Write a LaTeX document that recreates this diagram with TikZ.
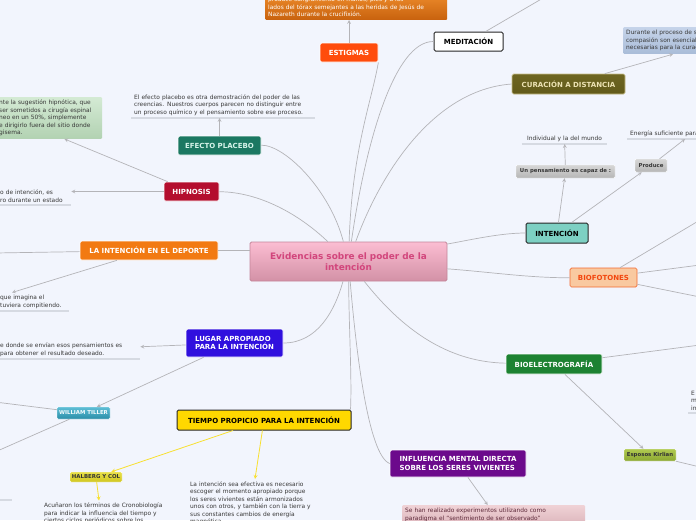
\documentclass[tikz,border=0pt]{standalone}
\usepackage{fontspec}
\setmainfont{DejaVu Sans}

\definecolor{bgblue}{HTML}{F2F5FD}
\definecolor{linegray}{HTML}{B4B4B8}
\definecolor{uline}{HTML}{D6DAE2}
\definecolor{notegray}{HTML}{383838}
\definecolor{rootA}{HTML}{FBBDD2}
\definecolor{rootB}{HTML}{D391A6}
\definecolor{rootline}{HTML}{C4869A}
\definecolor{roottext}{HTML}{D2457C}
\definecolor{estigred}{HTML}{FF4C0C}
\definecolor{estigA}{HTML}{EC8A2A}
\definecolor{estigB}{HTML}{C8620E}
\definecolor{oliveA}{HTML}{6E6622}
\definecolor{oliveB}{HTML}{625A1A}
\definecolor{olivetext}{HTML}{EDE3B4}
\definecolor{skyA}{HTML}{C6D4EA}
\definecolor{skyB}{HTML}{A9BCD8}
\definecolor{tealbox}{HTML}{7DD0C3}
\definecolor{greyA}{HTML}{D6D6D6}
\definecolor{greyB}{HTML}{B6B6B6}
\definecolor{peach}{HTML}{F9C9A0}
\definecolor{peachline}{HTML}{F26A30}
\definecolor{peachtext}{HTML}{F2460E}
\definecolor{bioverde}{HTML}{1D8232}
\definecolor{kirlA}{HTML}{B0CA50}
\definecolor{kirlB}{HTML}{8CA832}
\definecolor{morado}{HTML}{6C0A8C}
\definecolor{rosaA}{HTML}{F0D2D6}
\definecolor{rosaB}{HTML}{DDB6BC}
\definecolor{rosatext}{HTML}{5E2A3A}
\definecolor{amarillo}{HTML}{FFD800}
\definecolor{linkyellow}{HTML}{F8E030}
\definecolor{halbA}{HTML}{E8E048}
\definecolor{halbB}{HTML}{D0C620}
\definecolor{tillA}{HTML}{5EBED6}
\definecolor{tillB}{HTML}{2A8EA8}
\definecolor{violeta}{HTML}{3010DE}
\definecolor{naranja}{HTML}{F27A12}
\definecolor{carmesi}{HTML}{B40E2E}
\definecolor{placeboverde}{HTML}{1B7862}
\definecolor{placebotext}{HTML}{D6F4EA}
\definecolor{hojaA}{HTML}{D4EAD4}
\definecolor{hojaB}{HTML}{B2D2B2}

\begin{document}
\begin{tikzpicture}[x=1pt, y=-1pt, every node/.style={font=\fontsize{5.9}{7.4}\selectfont}]
\tikzstyle{central} = [rectangle, rounded corners=1.5pt, minimum width=197pt, minimum height=39pt,
align=center, top color=rootA, bottom color=rootB, draw=rootline, line width=0.8pt, text=roottext,
font=\bfseries\fontsize{8.9}{11}\selectfont]
\tikzstyle{topic} = [rectangle, rounded corners=1.5pt, minimum height=19pt, inner xsep=5pt,
align=center, draw=white, line width=0.7pt, font=\bfseries\fontsize{7}{8.8}\selectfont]
\tikzstyle{darktopic} = [topic, draw=black!85, line width=1pt]
\tikzstyle{subtopic} = [rectangle, rounded corners=1pt, minimum height=12pt, inner sep=1pt,
align=center, draw=white, line width=0.4pt, font=\bfseries\fontsize{5.4}{6.5}\selectfont]
\tikzstyle{notebox} = [rectangle, rounded corners=1pt, align=left, inner sep=3pt]
\tikzstyle{note} = [align=left, inner xsep=3pt, inner ysep=2.5pt, text=notegray]
\tikzstyle{undernote} = [note, append after command={(\tikzlastnode.south west) edge[draw=uline, line width=1.2pt] (\tikzlastnode.south east)}]
\tikzstyle{link} = [draw=linegray, line width=0.7pt]
\tikzstyle{arrow} = [link, ->, >=stealth]
\tikzstyle{yellowarrow} = [draw=linkyellow, line width=0.8pt, ->, >=stealth]

\useasboundingbox (0,0) rectangle (696,520);
\clip (0,0) rectangle (696,520);
\fill[bgblue] (0,0) rectangle (696,520);

% Nodes
\node (root) [central] at (348.5,261.5) {Evidencias sobre el poder de la\\intención};

\node (estigmas) [topic, fill=estigred, text=white, minimum width=58pt] at (349,52.5) {ESTIGMAS};
\node (estignota) [notebox, top color=estigA, bottom color=estigB, text=white, text width=176pt, anchor=south west] at (265,20)
  {produce sangramiento en manos, pies y a los\\lados del tórax semejantes a las heridas de Jesús de\\Nazareth durante la crucifixión.};

\node (meditacion) [darktopic, fill=white, text=black, minimum width=69pt] at (468.5,41.5) {MEDITACIÓN};
\coordinate (medfin) at (550,-6);

\node (curacion) [topic, top color=oliveA, bottom color=oliveB, draw=olivetext!70!oliveA, text=olivetext, minimum width=113pt, minimum height=20pt] at (568.5,84) {CURACIÓN A DISTANCIA};
\node (curanota) [notebox, top color=skyA, bottom color=skyB, text=notegray, text width=120pt, anchor=north west] at (623,27)
  {Durante el proceso de sanación\\compasión son esenciales\\necesarias para la curación};

\node (intencion) [darktopic, fill=tealbox, text=black, minimum width=62pt, minimum height=20pt] at (557,233) {INTENCIÓN};
\node (pensamiento) [subtopic, top color=greyA, bottom color=greyB, text=notegray, minimum width=99pt, minimum height=13pt] at (565.5,171.5) {Un pensamiento es capaz de :};
\node (individual) [undernote, align=center, text width=79pt] at (564.5,138.5) {Individual y la del mundo};
\node (produce) [subtopic, top color=greyA, bottom color=greyB, text=notegray, minimum width=32pt, minimum height=13pt] at (651,165.5) {Produce};
\node (energia) [undernote, text width=100pt, anchor=south west] at (627,139) {Energía suficiente para};

\node (biofotones) [topic, fill=peach, draw=peachline, text=peachtext, minimum width=67pt] at (603.5,277.5) {BIOFOTONES};
\coordinate (biofin1) at (700,220);
\coordinate (biofin2) at (700,265);
\coordinate (biofin3) at (700,297);

\node (bioelectro) [topic, fill=bioverde, text=white, minimum width=96pt, minimum height=20pt] at (554,364) {BIOELECTROGRAFÍA};
\coordinate (bioelfin) at (700,345);
\node (kirlian) [subtopic, top color=kirlA, bottom color=kirlB, text=black!80, minimum width=52pt, minimum height=12pt] at (650,455) {Esposos Kirlian};
\coordinate (kirlfin) at (700,467);
\node (margen) [undernote, anchor=south west] at (688,413) {E\\m\\in};

\node (influencia) [topic, fill=morado, text=white, minimum width=136pt, minimum height=27pt, align=left] at (458,463.5) {INFLUENCIA MENTAL DIRECTA\\SOBRE LOS SERES VIVIENTES};
\node (influnota) [notebox, top color=rosaA, bottom color=rosaB, text=rosatext, text width=177pt, anchor=north west] at (402,505)
  {Se han realizado experimentos utilizando como\\paradigma el “sentimiento de ser observado”};

\node (tiempo) [darktopic, fill=amarillo, text=black, minimum width=174pt, minimum height=20pt] at (264,420) {TIEMPO PROPICIO PARA LA INTENCIÓN};
\node (halberg) [subtopic, top color=halbA, bottom color=halbB, text=black!80, minimum width=52pt, minimum height=10pt] at (96,477) {HALBERG Y COL};
\node (tiemponota) [note, text width=152pt, anchor=north west] at (187,479)
  {La intención sea efectiva es necesario\\escoger el momento apropiado porque\\los seres vivientes están armonizados\\unos con otros, y también con la tierra y\\sus constantes cambios de energía\\magnética.};
\node (acunaron) [note, text width=150pt, anchor=north west] at (41,500.5)
  {Acuñaron los términos de Cronobiología\\para indicar la influencia del tiempo y\\ciertos ciclos periódicos sobre los};
\coordinate (bajoA) at (-5,500);
\coordinate (bajoB) at (12,500);

\node (lugar) [topic, fill=violeta, text=white, minimum width=97pt, minimum height=28pt, align=left] at (234.5,343) {LUGAR APROPIADO\\PARA LA INTENCIÓN};
\node (lugarnota) [undernote, text width=137pt, anchor=south west] at (-3,359)
  {e donde se envían esos pensamientos es\\para obtener el resultado deseado.};
\node (tiller) [subtopic, top color=tillA, bottom color=tillB, text=white!92!tillA, minimum width=53pt, minimum height=12pt] at (83.5,413) {WILLIAM TILLER};
\coordinate (tillfin1) at (-5,402);
\coordinate (tillfin2) at (-5,452);

\node (deporte) [topic, fill=naranja, text=white, minimum width=138pt] at (149,250.5) {LA INTENCIÓN EN EL DEPORTE};
\coordinate (deportefin) at (-5,253);
\node (deportenota) [undernote, text width=66pt, anchor=south west] at (-3,311) {que imagina el\\tuviera compitiendo.};

\node (hipnosis) [topic, fill=carmesi, text=white, minimum width=55pt] at (191.5,191.5) {HIPNOSIS};
\node (hipnota) [undernote, text width=68pt, anchor=south west] at (-3,205) {o de intención, es\\ro durante un estado};
\node (hipnobox) [notebox, top color=hojaA, bottom color=hojaB, text=notegray, text width=100pt, anchor=north west] at (-4,97)
  {nte la sugestión hipnótica, que\\ser sometidos a cirugía espinal\\neo en un 50\%, simplemente\\e dirigirlo fuera del sitio donde\\gisema.};

\node (placebo) [topic, fill=placeboverde, text=placebotext, minimum width=83pt] at (219.5,145.5) {EFECTO PLACEBO};
\node (placebonota) [undernote, text width=178pt, anchor=south west] at (131,118)
  {El efecto placebo es otra demostración del poder de las\\creencias. Nuestros cuerpos parecen no distinguir entre\\un proceso químico y el pensamiento sobre ese proceso.};

% Arrows
\draw [link] (root) .. controls (352,150) and (372,100) .. (estigmas.south east);
\draw [link] (root) .. controls (366,140) and (395,41) .. (meditacion.west);
\draw [link] (root) .. controls (378,180) and (430,90) .. (curacion.west);
\draw [link] (root) .. controls (470,240) and (500,233) .. (intencion);
\draw [link] (root) .. controls (490,272) and (530,278) .. (biofotones);
\draw [link] (root) .. controls (395,320) and (440,362) .. (bioelectro);
\draw [link] (root) .. controls (356,350) and (368,455) .. (influencia.west);
\draw [link] (root) .. controls (349,330) and (352,380) .. ([xshift=-1pt]tiempo.north east);
\draw [link] (root) .. controls (335,310) and (318,343) .. (lugar.east);
\draw [link] (deporte.east) -- (deporte.east -| root.west);
\draw [link] (hipnosis) .. controls (260,192) and (300,215) .. (root);
\draw [link] (placebo) .. controls (285,145) and (330,190) .. (root);

\draw [arrow] (estigmas) -- (estigmas |- estignota.south);
\draw [link] (meditacion) -- (medfin);
\draw [arrow] (curacion) -- ([xshift=50pt]curanota.south west);
\draw [arrow] (intencion) -- (pensamiento);
\draw [arrow] (pensamiento) -- (individual);
\draw [arrow] (intencion) -- (produce);
\draw [arrow] (produce) -- ([xshift=58pt]energia.south west);
\draw [link] (biofotones) -- (biofin1);
\draw [link] (biofotones) -- (biofin2);
\draw [link] (biofotones) -- (biofin3);
\draw [link] (bioelectro) -- (bioelfin);
\draw [arrow] (bioelectro) -- (kirlian);
\draw [link] (kirlian) -- (kirlfin);
\draw [arrow] (influencia) -- ([xshift=-6pt]influnota.north);
\draw [yellowarrow] (tiempo) -- (halberg);
\draw [yellowarrow] (tiempo) -- ([xshift=-9pt]tiempo.south |- tiemponota.north);
\draw [yellowarrow] (halberg) -- ([xshift=3pt]halberg |- acunaron.north);
\draw [draw=uline, line width=1.2pt] (bajoA) -- (bajoB);
\draw [arrow] (lugar) -- (lugarnota);
\draw [arrow] (lugar) -- (tiller);
\draw [link] (tiller) -- (tillfin1);
\draw [link] (tiller) -- (tillfin2);
\draw [link] (deporte) -- (deportefin);
\draw [arrow] (deporte) -- ([xshift=15pt]deportenota.north west);
\draw [arrow] (hipnosis) -- (hipnota.east |- hipnosis);
\draw [arrow] (hipnosis) -- ([xshift=-38pt]hipnobox.south east);
\draw [arrow] (placebo) -- (placebo |- placebonota.south);
\end{tikzpicture}
\end{document}
